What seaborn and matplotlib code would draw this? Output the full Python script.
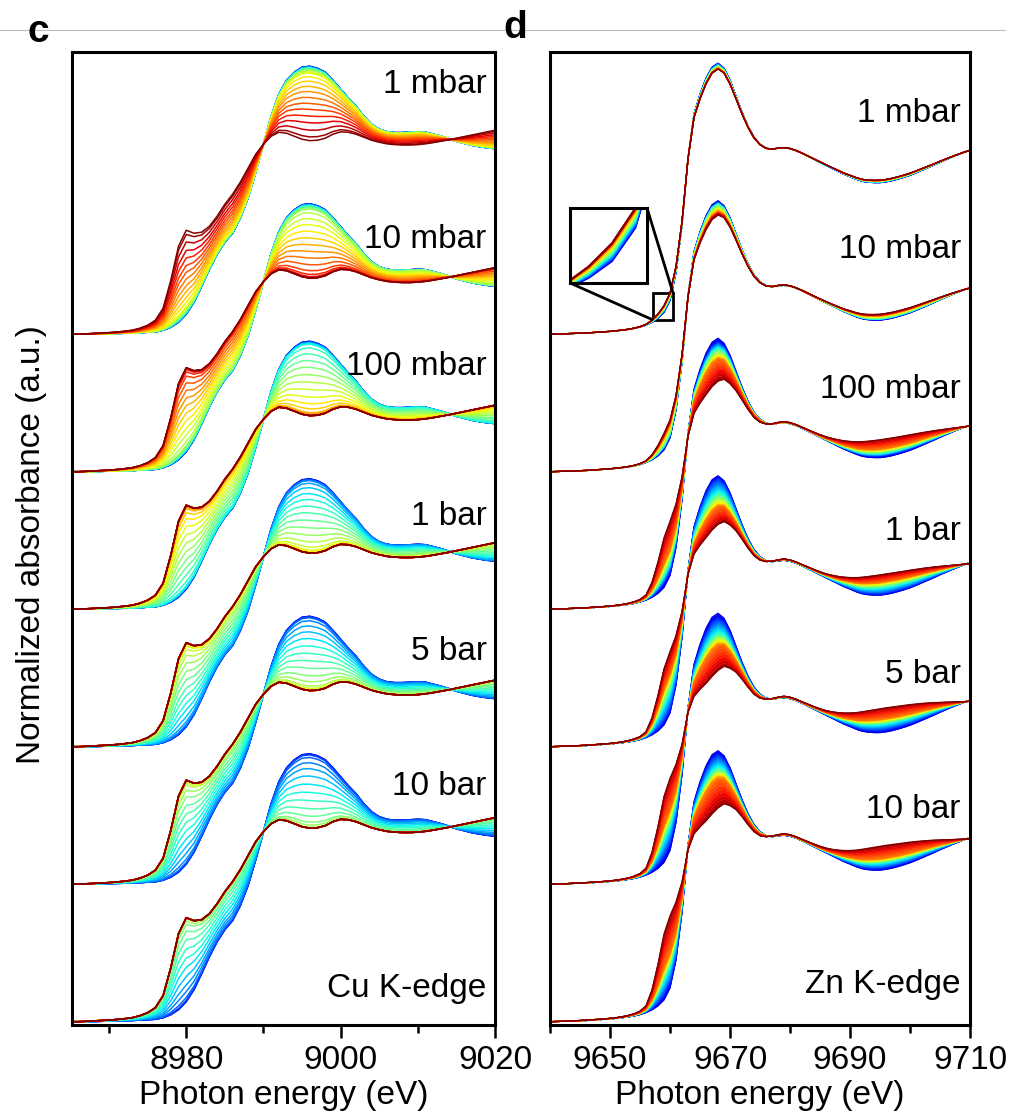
import numpy as np
import pandas as pd
import matplotlib
matplotlib.use("Agg")
import matplotlib.pyplot as plt
import seaborn as sns
from matplotlib.lines import Line2D
from mpl_toolkits.axes_grid1.inset_locator import mark_inset

# ---------------- data ----------------
cu_energy = list(range(8965, 9021))
cu_oxidized = [0.0, 0.0, 0.0, 0.001, 0.002, 0.003, 0.004, 0.005, 0.006, 0.008,
               0.01, 0.012, 0.02, 0.035, 0.06, 0.10, 0.16, 0.24, 0.325, 0.40,
               0.46, 0.505, 0.58, 0.68, 0.81, 0.95, 1.09, 1.20, 1.27, 1.31,
               1.335, 1.34, 1.33, 1.31, 1.27, 1.225, 1.18, 1.14, 1.09, 1.05,
               1.025, 1.012, 1.008, 1.008, 1.01, 1.012, 1.01, 1.0, 0.99, 0.978,
               0.965, 0.955, 0.945, 0.938, 0.932, 0.928]
cu_reduced = [0.0, 0.0, 0.002, 0.004, 0.006, 0.008, 0.011, 0.015, 0.02, 0.03,
              0.045, 0.07, 0.13, 0.27, 0.44, 0.52, 0.505, 0.51, 0.54, 0.59,
              0.65, 0.70, 0.76, 0.83, 0.90, 0.95, 0.99, 1.01, 1.005, 0.99,
              0.975, 0.968, 0.97, 0.98, 1.0, 1.012, 1.01, 1.0, 0.985, 0.97,
              0.96, 0.952, 0.948, 0.946, 0.946, 0.948, 0.952, 0.958, 0.965, 0.972,
              0.98, 0.988, 0.996, 1.004, 1.012, 1.02]

zn_energy = list(range(9640, 9711))
zn_initial = [0.0, 0.001, 0.002, 0.003, 0.004, 0.005, 0.006, 0.008, 0.01, 0.012,
              0.014, 0.017, 0.02, 0.024, 0.029, 0.036, 0.046, 0.06, 0.08, 0.11,
              0.17, 0.31, 0.55, 0.88, 1.10, 1.20, 1.28, 1.335, 1.355, 1.33,
              1.27, 1.19, 1.11, 1.04, 0.985, 0.95, 0.93, 0.925, 0.93, 0.932,
              0.928, 0.918, 0.905, 0.89, 0.875, 0.86, 0.845, 0.83, 0.815, 0.80,
              0.788, 0.775, 0.765, 0.76, 0.758, 0.758, 0.762, 0.768, 0.776, 0.785,
              0.795, 0.807, 0.82, 0.833, 0.846, 0.86, 0.873, 0.886, 0.898, 0.91,
              0.92]
zn_final = [0.0, 0.001, 0.002, 0.003, 0.005, 0.006, 0.008, 0.01, 0.012, 0.014,
            0.017, 0.02, 0.025, 0.031, 0.04, 0.053, 0.08, 0.16, 0.29, 0.44,
            0.53, 0.60, 0.70, 0.86, 0.94, 0.975, 1.005, 1.04, 1.07, 1.09,
            1.08, 1.06, 1.025, 0.985, 0.95, 0.93, 0.925, 0.928, 0.935, 0.94,
            0.935, 0.925, 0.912, 0.90, 0.888, 0.877, 0.868, 0.862, 0.858, 0.856,
            0.856, 0.858, 0.862, 0.867, 0.872, 0.877, 0.882, 0.886, 0.89, 0.894,
            0.898, 0.901, 0.904, 0.906, 0.908, 0.909, 0.91, 0.911, 0.912, 0.913,
            0.914]

pressure_labels = ["1 mbar", "10 mbar", "100 mbar", "1 bar", "5 bar", "10 bar"]

# fraction of the final state for each successive spectrum (one list per pressure)
cu_frac_1mbar = [0, 0.002, 0.004, 0.006, 0.008, 0.01, 0.012, 0.015, 0.018, 0.021, 0.025, 0.03, 0.035, 0.04, 0.05,
                 0.06, 0.075, 0.09, 0.14, 0.20, 0.27, 0.34, 0.42, 0.50, 0.58, 0.67, 0.76, 0.86, 0.95, 1.0]
cu_frac_10mbar = [0, 0.002, 0.004, 0.006, 0.008, 0.01, 0.013, 0.016, 0.02, 0.025, 0.03, 0.037, 0.045, 0.055, 0.07,
                  0.12, 0.20, 0.28, 0.37, 0.46, 0.55, 0.64, 0.73, 0.82, 0.90, 0.95, 0.98, 1.0, 1.0, 1.0]
cu_frac_100mbar = [0, 0.003, 0.006, 0.009, 0.012, 0.016, 0.02, 0.025, 0.03, 0.04, 0.09, 0.17, 0.26, 0.35, 0.45,
                   0.55, 0.65, 0.75, 0.84, 0.91, 0.96, 0.98, 1.0, 1.0, 1.0, 1.0, 1.0, 1.0, 1.0, 1.0]
cu_frac_1bar = [0, 0.003, 0.006, 0.01, 0.015, 0.025, 0.06, 0.12, 0.20, 0.28, 0.37, 0.46, 0.56, 0.66, 0.76,
                0.85, 0.92, 0.96, 0.98, 1.0, 1.0, 1.0, 1.0, 1.0, 1.0, 1.0, 1.0, 1.0, 1.0, 1.0]
cu_frac_5bar = [0, 0.003, 0.006, 0.01, 0.02, 0.06, 0.13, 0.21, 0.30, 0.40, 0.50, 0.60, 0.70, 0.80, 0.88,
                0.94, 0.97, 0.99, 1.0, 1.0, 1.0, 1.0, 1.0, 1.0, 1.0, 1.0, 1.0, 1.0, 1.0, 1.0]
cu_frac_10bar = [0, 0.003, 0.007, 0.015, 0.05, 0.12, 0.20, 0.30, 0.41, 0.52, 0.63, 0.74, 0.84, 0.92, 0.96,
                 0.99, 1.0, 1.0, 1.0, 1.0, 1.0, 1.0, 1.0, 1.0, 1.0, 1.0, 1.0, 1.0, 1.0, 1.0]

zn_frac_1mbar = [0, 0.003, 0.006, 0.009, 0.012, 0.015, 0.018, 0.021, 0.024, 0.027, 0.03, 0.033, 0.036, 0.039,
                 0.042, 0.045, 0.048, 0.051, 0.054, 0.057, 0.06, 0.063, 0.066, 0.069, 0.072, 0.075, 0.078,
                 0.081, 0.084, 0.087, 0.09, 0.091, 0.092, 0.093, 0.094, 0.095, 0.096, 0.097, 0.099, 0.1]
zn_frac_10mbar = [0, 0.008, 0.015, 0.023, 0.03, 0.033, 0.036, 0.039, 0.042, 0.045, 0.048, 0.051, 0.054, 0.057,
                  0.06, 0.068, 0.077, 0.085, 0.093, 0.102, 0.11, 0.118, 0.127, 0.135, 0.143, 0.152, 0.16,
                  0.168, 0.175, 0.183, 0.19, 0.196, 0.202, 0.208, 0.214, 0.22, 0.226, 0.232, 0.241, 0.25]
zn_frac_100mbar = [0, 0.019, 0.038, 0.056, 0.075, 0.086, 0.096, 0.107, 0.117, 0.128, 0.138, 0.149, 0.159, 0.17,
                   0.18, 0.193, 0.205, 0.218, 0.23, 0.243, 0.255, 0.268, 0.28, 0.293, 0.305, 0.318, 0.33,
                   0.338, 0.345, 0.353, 0.36, 0.411, 0.462, 0.513, 0.564, 0.615, 0.666, 0.72, 0.735, 0.75]
zn_frac_1bar = [0, 0.015, 0.03, 0.045, 0.06, 0.086, 0.111, 0.137, 0.162, 0.188, 0.213, 0.239, 0.264, 0.29,
                0.315, 0.331, 0.347, 0.363, 0.378, 0.394, 0.41, 0.426, 0.442, 0.457, 0.473, 0.489, 0.505,
                0.513, 0.52, 0.528, 0.535, 0.577, 0.619, 0.661, 0.703, 0.745, 0.787, 0.825, 0.838, 0.85]
zn_frac_5bar = [0, 0.025, 0.05, 0.075, 0.1, 0.126, 0.152, 0.178, 0.204, 0.23, 0.256, 0.282, 0.308, 0.334,
                0.36, 0.373, 0.386, 0.399, 0.412, 0.425, 0.438, 0.451, 0.464, 0.477, 0.49, 0.505, 0.52,
                0.53, 0.54, 0.55, 0.56, 0.62, 0.68, 0.74, 0.80, 0.86, 0.92, 0.97, 0.985, 1.0]
zn_frac_10bar = [0, 0.02, 0.04, 0.06, 0.08, 0.103, 0.126, 0.149, 0.172, 0.195, 0.218, 0.241, 0.264, 0.287,
                 0.31, 0.321, 0.332, 0.343, 0.354, 0.365, 0.376, 0.387, 0.398, 0.409, 0.42, 0.43, 0.44,
                 0.452, 0.465, 0.477, 0.49, 0.556, 0.622, 0.688, 0.754, 0.82, 0.886, 0.95, 0.975, 1.0]

cu_fractions = [cu_frac_1mbar, cu_frac_10mbar, cu_frac_100mbar, cu_frac_1bar, cu_frac_5bar, cu_frac_10bar]
zn_fractions = [zn_frac_1mbar, zn_frac_10mbar, zn_frac_100mbar, zn_frac_1bar, zn_frac_5bar, zn_frac_10bar]

cu_ticks_major = [8980, 9000, 9020]
cu_ticks_minor = [8970, 8990, 9010]
zn_ticks_major = [9650, 9670, 9690, 9710]
zn_ticks_minor = [9640, 9660, 9680, 9700]

# ---------------- style ----------------
sns.set_theme(style="ticks")
plt.rcParams["font.family"] = ["Liberation Sans", "DejaVu Sans"]
plt.rcParams.update({"axes.edgecolor": "black", "text.color": "black",
                     "axes.labelcolor": "black", "xtick.color": "black",
                     "ytick.color": "black"})

STACK = 0.6875
FS = 24

fig = plt.figure(figsize=(10.10, 11.19), dpi=100)
ax_cu = fig.add_axes([0.0713, 0.0840, 0.4188, 0.8695])
ax_zn = fig.add_axes([0.5446, 0.0840, 0.4158, 0.8695])
cmap = plt.get_cmap("jet")


def draw_set(ax, energy, start, end, fractions, offset, lw, fill=False, c0=0.1):
    s = np.asarray(start, dtype=float)
    e = np.asarray(end, dtype=float)
    n = len(fractions)
    pal = {i: cmap(c0 + (1 - c0) * i / (n - 1)) for i in range(n)}
    frames = []
    curves = []
    for i, f in enumerate(fractions):
        mu = (1 - f) * s + f * e + offset
        curves.append(mu)
        frames.append(pd.DataFrame({"energy": energy, "mu": mu, "curve": i}))
    if fill:
        for i in range(1, n):
            ax.fill_between(energy, curves[i - 1], curves[i], color=pal[i], lw=0)
    df = pd.concat(frames, ignore_index=True)
    sns.lineplot(data=df, x="energy", y="mu", hue="curve", palette=pal,
                 hue_order=list(range(n)), estimator=None, sort=False,
                 legend=False, linewidth=lw, ax=ax)


nsets = len(pressure_labels)
for k in range(nsets):
    off = (nsets - 1 - k) * STACK
    draw_set(ax_cu, cu_energy, cu_oxidized, cu_reduced, cu_fractions[k], off, 1.1)
    draw_set(ax_zn, zn_energy, zn_initial, zn_final, zn_fractions[k], off, 0.9,
             fill=True, c0=0.08)

ax_cu.set_xlim(8965.2, 9019.8)
ax_zn.set_xlim(9640, 9710)
for ax in (ax_cu, ax_zn):
    ax.set_ylim(-0.0165, 4.8485)
    ax.set_yticks([])
    ax.set_ylabel("")
    ax.set_xlabel("Photon energy (eV)", fontsize=FS, labelpad=3, color="black")
    for sp in ax.spines.values():
        sp.set_linewidth(2.2)
        sp.set_color("black")
    ax.tick_params(axis="x", which="major", direction="out", length=9.5, width=1.8,
                   labelsize=FS, pad=5, colors="black", bottom=True)
    ax.tick_params(axis="x", which="minor", direction="out", length=6, width=1.8,
                   colors="black", bottom=True)
    ax.set_facecolor("white")

ax_cu.set_xticks(cu_ticks_major)
ax_cu.set_xticks(cu_ticks_minor, minor=True)
ax_zn.set_xticks(zn_ticks_major)
ax_zn.set_xticks(zn_ticks_minor, minor=True)

cu_label_y = [0.958, 0.799, 0.668, 0.514, 0.375, 0.236]
zn_label_y = [0.928, 0.788, 0.644, 0.498, 0.351, 0.213]
for lab, yc, yz in zip(pressure_labels, cu_label_y, zn_label_y):
    ax_cu.text(0.980, yc, lab, transform=ax_cu.transAxes, ha="right", va="baseline", fontsize=FS)
    ax_zn.text(0.978, yz, lab, transform=ax_zn.transAxes, ha="right", va="baseline", fontsize=FS)
ax_cu.text(0.980, 0.029, "Cu K-edge", transform=ax_cu.transAxes, ha="right", va="baseline", fontsize=FS)
ax_zn.text(0.978, 0.033, "Zn K-edge", transform=ax_zn.transAxes, ha="right", va="baseline", fontsize=FS)

# inset zoom on the Zn edge (top set)
axins = fig.add_axes([0.5644, 0.7471, 0.0762, 0.0670])
top_off = (nsets - 1) * STACK
draw_set(axins, zn_energy, zn_initial, zn_final, zn_fractions[0], top_off, 1.2,
         fill=True, c0=0.08)
axins.set_xlim(9657.2, 9660.5)
axins.set_ylim(top_off + 0.071, top_off + 0.206)
axins.set_xticks([])
axins.set_yticks([])
axins.set_xlabel("")
axins.set_ylabel("")
axins.set_facecolor("white")
for sp in axins.spines.values():
    sp.set_linewidth(2.2)
    sp.set_color("black")
mark_inset(ax_zn, axins, loc1=1, loc2=3, fc="none", ec="black", lw=2.0)

fig.text(0.031, 0.513, "Normalized absorbance (a.u.)", rotation=90,
         ha="center", va="center", fontsize=FS)
fig.text(0.027, 0.9625, "c", fontsize=28, fontweight="bold", va="baseline", ha="left")
fig.text(0.498, 0.966, "d", fontsize=28, fontweight="bold", va="baseline", ha="left")
fig.add_artist(Line2D([0, 0.995], [0.9732, 0.9732], transform=fig.transFigure,
                      color="#bbbbbb", lw=0.8))

fig.savefig("out.png", dpi=100, facecolor="white")
